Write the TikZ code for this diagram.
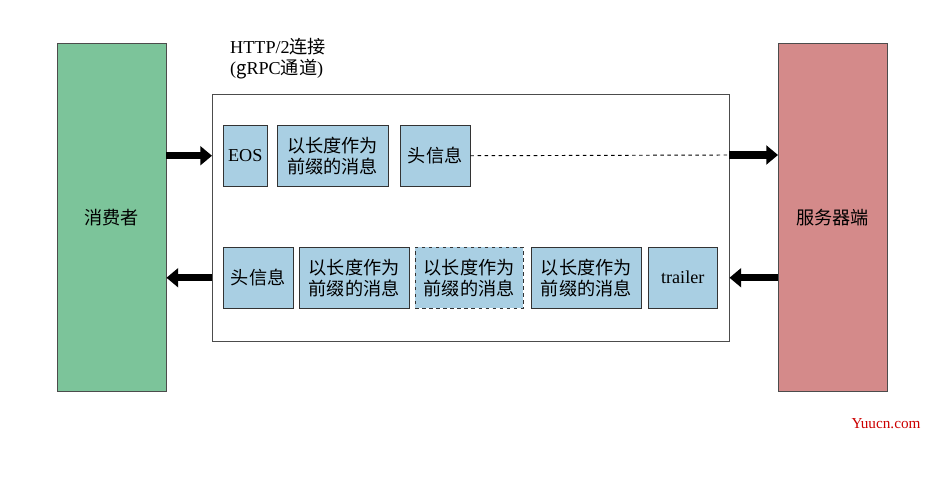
\documentclass[tikz,border=0pt]{standalone}
\usepackage{fontspec}
\setmainfont{Liberation Serif}
\newfontfamily\cjk{Noto Sans CJK SC}
\usetikzlibrary{arrows.meta}
\definecolor{consumer}{RGB}{124,196,154}
\definecolor{server}{RGB}{212,138,138}
\definecolor{frame}{RGB}{169,207,227}
\begin{document}
\begin{tikzpicture}
[
x=0.03cm,y=-0.03cm,
font=\fontsize{15.5}{18}\selectfont,
party/.style 2 args={draw=black!70,fill=#1,anchor=north west,minimum width=109*0.03cm,minimum height=348*0.03cm,label={[font=\fontsize{15.5}{18}\selectfont\cjk]center:#2}},
msg/.style={draw=black!80,fill=frame,anchor=north west,inner sep=0pt,minimum height=61*0.03cm,align=center},
fat/.style={line width=6pt,-{Triangle[length=10pt,width=16pt]}},
]
\useasboundingbox (0,0) rectangle (948,478);
%parties and channel
\node[party={consumer}{消费者}] (cons) at (57,43) {};
\node[party={server}{服务器端}] (serv) at (778,43) {};
\node[draw=black!70,anchor=north west,minimum width=517*0.03cm,minimum height=247*0.03cm] (chan) at (212,94) {};
\node[anchor=north west,align=left,inner sep=0pt] (title) at (230,38) {HTTP/2{\cjk 连接}\\({\cjk g}RPC{\cjk 通道})};
%request stream
\node[msg,minimum width=44*0.03cm] (eos) at (223,125) {EOS};
\node[msg,minimum width=111*0.03cm] (reqmsg) at (277,125) {\cjk 以长度作为\\\cjk 前缀的消息};
\node[msg,minimum width=70*0.03cm] (reqhead) at (400,125) {\cjk 头信息};
\coordinate (reqend) at (729,155);
\draw[dashed,black,thick] (reqhead.east) -- (reqend);
\draw[fat] (cons.east |- eos.west) -- (chan.west |- eos.west);
\draw[fat] (reqend) -- (serv.west |- reqend);
%response stream
\node[msg,minimum width=70*0.03cm] (resphead) at (223,247) {\cjk 头信息};
\node[msg,minimum width=110*0.03cm] (msga) at (299,247) {\cjk 以长度作为\\\cjk 前缀的消息};
\node[msg,dashed,minimum width=108*0.03cm] (msgb) at (415,247) {\cjk 以长度作为\\\cjk 前缀的消息};
\node[msg,minimum width=110*0.03cm] (msgc) at (531,247) {\cjk 以长度作为\\\cjk 前缀的消息};
\node[msg,minimum width=69*0.03cm] (trailer) at (648,247) {trailer};
\draw[fat] (chan.west |- resphead.west) -- (cons.east |- resphead.west);
\draw[fat] (serv.west |- trailer.east) -- (chan.east |- trailer.east);
\node[text=red!80!black,font=\fontsize{13}{15}\selectfont] (mark) at (886,424) {Yuucn.com};
\end{tikzpicture}
\end{document}
